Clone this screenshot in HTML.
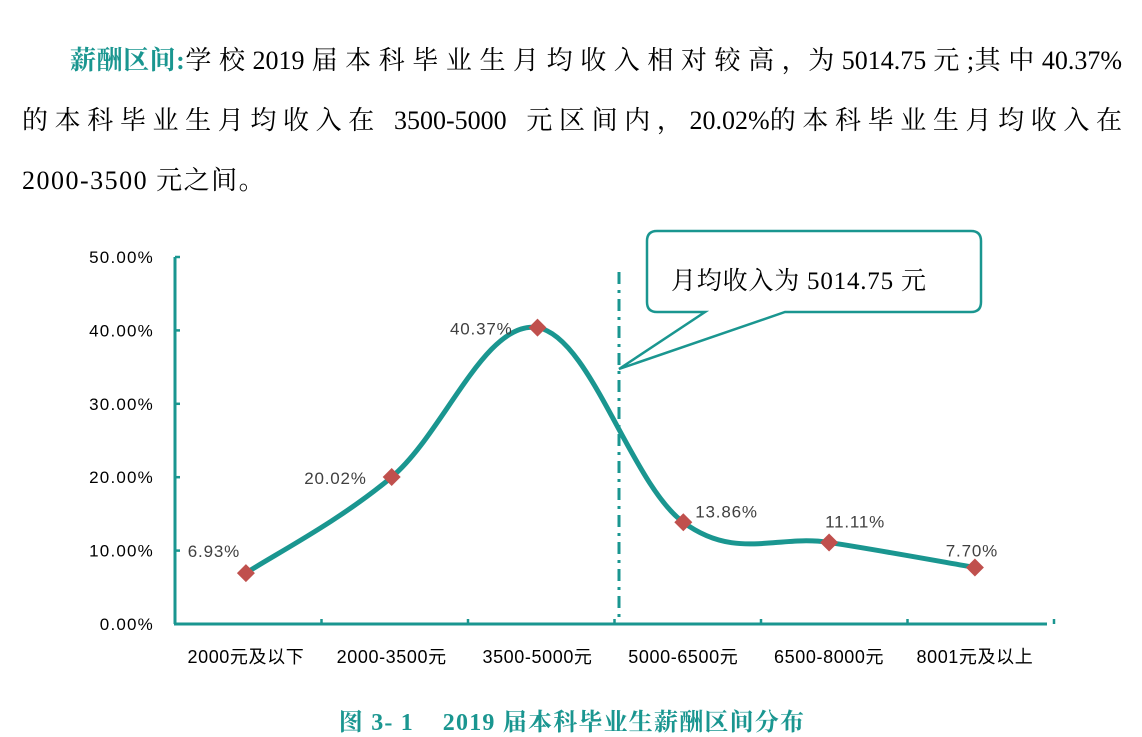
<!DOCTYPE html>
<html><head><meta charset="utf-8">
<style>
html,body{margin:0;padding:0;background:#fff;}
body{width:1142px;height:737px;position:relative;overflow:hidden;font-family:"Liberation Serif","Noto Serif CJK SC","Noto Sans CJK SC",serif;}
.p{position:absolute;font-size:26px;color:#000;white-space:nowrap;}
.j{text-align:justify;text-align-last:justify;white-space:normal;}
</style></head><body>
<div class="p j" style="left:70px;top:40px;width:1052px;"><span style="color:#1a9690;font-weight:bold;">薪酬区间:</span>学 校 2019 届 本 科 毕 业 生 月 均 收 入 相 对 较 高 ，为 5014.75 元 ;其 中 40.37%</div>
<div class="p j" style="left:22px;top:100px;width:1100px;">的 本 科 毕 业 生 月 均 收 入 在 &nbsp; 3500-5000 &nbsp; 元 区 间 内 ， 20.02%的 本 科 毕 业 生 月 均 收 入 在</div>
<div class="p" style="left:22px;top:160px;letter-spacing:1.5px;">2000-3500 元之间。</div>

<svg id="chart" width="1142" height="737" style="position:absolute;left:0;top:0;" font-family="'Liberation Sans','Noto Sans CJK SC',sans-serif">
<g id="axes"></g>
<g id="callout">
<line x1="619" y1="272" x2="619" y2="624" stroke="#1a9690" stroke-width="3" stroke-dasharray="12,6,3,6"/>
<path d="M657,231 H971 Q981,231 981,241 V302 Q981,312 971,312 H785 L619,369 L705,312 H657 Q647,312 647,302 V241 Q647,231 657,231 Z" fill="#fff" stroke="#1a9690" stroke-width="2.5"/>
<text x="671" y="289" font-size="25" letter-spacing="0.8" font-family="'Liberation Serif','Noto Serif CJK SC',serif" fill="#000">月均收入为 5014.75 元</text>
</g>
<g id="series"></g>
<text x="572" y="730" text-anchor="middle" font-size="24" letter-spacing="1.2" font-weight="bold" fill="#1a9690" font-family="'Liberation Serif','Noto Serif CJK SC',serif">图 3- 1&#160;&#160;&#160; 2019 届本科毕业生薪酬区间分布</text>
</svg>
<script>
const categories=["2000元及以下","2000-3500元","3500-5000元","5000-6500元","6500-8000元","8001元及以上"];
const values=[6.93,20.02,40.37,13.86,11.11,7.70];
const yTicks=[0,10,20,30,40,50];

const NS="http://www.w3.org/2000/svg";
const x0=175,x1=1047,y0=624,y1=257,yMax=50;
const band=145.8;
function xs(i){return x0+band*(i+0.5)-2;}
function ys(v){return y0-(v/yMax)*(y0-y1);}
function mk(tag,attrs,parent){const e=document.createElementNS(NS,tag);for(const k in attrs)e.setAttribute(k,attrs[k]);parent.appendChild(e);return e;}
const axes=document.getElementById('axes'),series=document.getElementById('series');
const teal="#1a9690";
let a=mk('line',{x1:x0,y1:y1,x2:x0,y2:y0,stroke:teal,'stroke-width':3},axes);


a=mk('line',{x1:x0-1,y1:y0,x2:x1,y2:y0,stroke:teal,'stroke-width':3},axes);


yTicks.forEach(t=>{
 const y=ys(t);
 const l=mk('line',{x1:x0,y1:y,x2:x0+5,y2:y,stroke:teal,'stroke-width':2.5},axes);
 
 
 const tx=mk('text',{x:154,y:y+6,'text-anchor':'end','font-size':17,'letter-spacing':1.2,fill:'#000'},axes);
 tx.textContent=t.toFixed(2)+'%';
 
 
});
for(let i=1;i<=categories.length;i++){
 const x=x0+146.5*i;
 const l=mk('line',{x1:x,y1:y0,x2:x,y2:y0-5,stroke:teal,'stroke-width':2.5},axes);
 
 
}
categories.forEach((c,i)=>{
 const tx=mk('text',{x:xs(i),y:663,'text-anchor':'middle','font-size':18,'letter-spacing':0.6,fill:'#000'},axes);
 tx.textContent=c;
 
 
});
const pts=values.map((v,i)=>[xs(i),ys(v)]);
let d="M"+pts[0][0]+","+pts[0][1];
const tension=0.18;
for(let i=0;i<pts.length-1;i++){
 const p0=pts[Math.max(i-1,0)],p1=pts[i],p2=pts[i+1],p3=pts[Math.min(i+2,pts.length-1)];
 const c1=[p1[0]+(p2[0]-p0[0])*tension,p1[1]+(p2[1]-p0[1])*tension];
 const c2=[p2[0]-(p3[0]-p1[0])*tension,p2[1]-(p3[1]-p1[1])*tension];
 d+=` C${c1[0]},${c1[1]} ${c2[0]},${c2[1]} ${p2[0]},${p2[1]}`;
}
const line=mk('path',{d:d,fill:'none',stroke:teal,'stroke-width':5,'stroke-linecap':'round'},series);


// label placement: [dx, dy, anchor]
const place=[[-32,-16,'middle'],[-25,7,'end'],[-25,7,'end'],[12,-5,'start'],[26,-15,'middle'],[-3,-11,'middle']];
pts.forEach((p,i)=>{
 const s=9;
 const m=mk('path',{d:`M${p[0]},${p[1]-s} L${p[0]+s},${p[1]} L${p[0]},${p[1]+s} L${p[0]-s},${p[1]} Z`,fill:'#c0504d'},series);
 
 
 const pl=place[i];
 const tx=mk('text',{x:p[0]+pl[0],y:p[1]+pl[1],'text-anchor':pl[2],'font-size':17,'letter-spacing':0.8,fill:'#404040'},series);
 tx.textContent=values[i].toFixed(2)+'%';
 
 
});
</script>
</body></html>
